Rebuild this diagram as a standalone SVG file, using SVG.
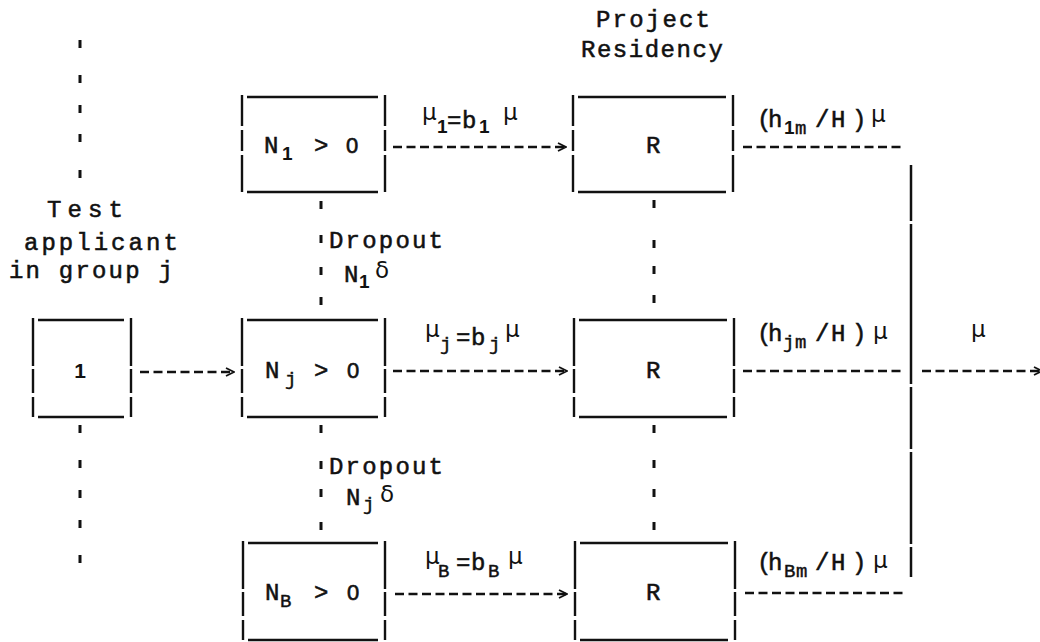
<svg xmlns="http://www.w3.org/2000/svg" width="1040" height="642" viewBox="0 0 1040 642">
<style>
.t{font-family:"Liberation Mono","DejaVu Sans Mono",monospace;font-size:24px;letter-spacing:2.2px;fill:#111;stroke:#111;stroke-width:0.55}
.s{font-family:"Liberation Mono","DejaVu Sans Mono",monospace;font-size:19px;fill:#111;stroke:#111;stroke-width:0.45}
.d{font-family:"Liberation Sans","Arial",sans-serif;font-size:19px;font-weight:bold;fill:#111}
.z{font-family:"Liberation Sans","Arial",sans-serif;font-size:22px;fill:#111;stroke:#111;stroke-width:0.6}
.g{font-family:"DejaVu Sans","Liberation Sans",sans-serif;font-size:23px;fill:#111}
.bx line{stroke:#111;stroke-width:2.4;fill:none}
.dash{stroke:#111;stroke-width:2.4;stroke-dasharray:9 4.5;fill:none}
.dot{fill:#111}
.solid{stroke:#111;stroke-width:2.5}
</style>
<defs>
<marker id="ah" viewBox="0 0 10 10" refX="9" refY="5" markerWidth="10" markerHeight="10" markerUnits="userSpaceOnUse" orient="auto">
<path d="M1,1 L9,5 L1,9" fill="none" stroke="#111" stroke-width="1.8"/>
</marker>
</defs>
<rect width="1040" height="642" fill="#fff"/>

<g id="title">
<text class="t" x="596" y="27">Project</text>
<text class="t" x="581" y="57" textLength="144" lengthAdjust="spacing">Residency</text>
</g>

<g id="applicant-label">
<text class="t" x="47" y="217" textLength="78" lengthAdjust="spacing">Test</text>
<text class="t" x="24" y="250" textLength="156" lengthAdjust="spacing">applicant</text>
<text class="t" x="9" y="278">in group j</text>
</g>

<g id="box-1" class="bx">
<line x1="38" y1="320" x2="124" y2="320"/><line x1="38" y1="417" x2="124" y2="417"/>
<line x1="33" y1="318" x2="33" y2="366"/><line x1="33" y1="369" x2="33" y2="393"/><line x1="33" y1="397" x2="33" y2="417"/>
<line x1="131" y1="318" x2="131" y2="366"/><line x1="131" y1="369" x2="131" y2="393"/><line x1="131" y1="397" x2="131" y2="417"/>
<text class="d" x="80" y="378" text-anchor="middle" style="font-size:21px">1</text>
</g>

<g id="box-n1" class="bx">
<line x1="247" y1="97" x2="378" y2="97"/><line x1="247" y1="192" x2="378" y2="192"/>
<line x1="242" y1="95" x2="242" y2="126"/><line x1="242" y1="130" x2="242" y2="151"/><line x1="242" y1="155" x2="242" y2="192"/>
<line x1="385" y1="95" x2="385" y2="126"/><line x1="385" y1="130" x2="385" y2="151"/><line x1="385" y1="155" x2="385" y2="192"/>
<text class="t" x="264" y="153">N</text><text class="d" x="282" y="160">1</text><text class="t" x="314" y="153">&gt;</text><text class="z" x="346" y="153">0</text>
</g>

<g id="box-nj" class="bx">
<line x1="247" y1="320" x2="378" y2="320"/><line x1="247" y1="417" x2="378" y2="417"/>
<line x1="242" y1="318" x2="242" y2="366"/><line x1="242" y1="369" x2="242" y2="393"/><line x1="242" y1="397" x2="242" y2="417"/>
<line x1="385" y1="318" x2="385" y2="366"/><line x1="385" y1="369" x2="385" y2="393"/><line x1="385" y1="397" x2="385" y2="417"/>
<text class="t" x="265" y="378">N</text><text class="s" x="285" y="385">j</text><text class="t" x="314" y="378">&gt;</text><text class="z" x="347" y="378">0</text>
</g>

<g id="box-nb" class="bx">
<line x1="248" y1="543" x2="378" y2="543"/><line x1="248" y1="640" x2="378" y2="640"/>
<line x1="243" y1="541" x2="243" y2="589"/><line x1="243" y1="592" x2="243" y2="616"/><line x1="243" y1="620" x2="243" y2="640"/>
<line x1="385" y1="541" x2="385" y2="589"/><line x1="385" y1="592" x2="385" y2="616"/><line x1="385" y1="620" x2="385" y2="640"/>
<text class="t" x="265" y="600">N</text><text class="s" x="280" y="607">B</text><text class="t" x="314" y="600">&gt;</text><text class="z" x="347" y="600">0</text>
</g>

<g id="box-r1" class="bx">
<line x1="578" y1="97" x2="726" y2="97"/><line x1="578" y1="192" x2="726" y2="192"/>
<line x1="573" y1="95" x2="573" y2="126"/><line x1="573" y1="130" x2="573" y2="151"/><line x1="573" y1="155" x2="573" y2="192"/>
<line x1="733" y1="95" x2="733" y2="126"/><line x1="733" y1="130" x2="733" y2="151"/><line x1="733" y1="155" x2="733" y2="192"/>
<text class="t" x="646" y="153">R</text>
</g>

<g id="box-rj" class="bx">
<line x1="579" y1="320" x2="727" y2="320"/><line x1="579" y1="417" x2="727" y2="417"/>
<line x1="574" y1="318" x2="574" y2="366"/><line x1="574" y1="369" x2="574" y2="393"/><line x1="574" y1="397" x2="574" y2="417"/>
<line x1="734" y1="318" x2="734" y2="366"/><line x1="734" y1="369" x2="734" y2="393"/><line x1="734" y1="397" x2="734" y2="417"/>
<text class="t" x="646" y="378">R</text>
</g>

<g id="box-rb" class="bx">
<line x1="580" y1="543" x2="728" y2="543"/><line x1="580" y1="640" x2="728" y2="640"/>
<line x1="575" y1="541" x2="575" y2="589"/><line x1="575" y1="592" x2="575" y2="616"/><line x1="575" y1="620" x2="575" y2="640"/>
<line x1="735" y1="541" x2="735" y2="589"/><line x1="735" y1="592" x2="735" y2="616"/><line x1="735" y1="620" x2="735" y2="640"/>
<text class="t" x="646" y="600">R</text>
</g>

<g id="connectors">
<line class="dash" x1="140" y1="372" x2="234" y2="372" marker-end="url(#ah)"/>
<line class="dash" x1="393" y1="147" x2="566" y2="147" marker-end="url(#ah)"/>
<line class="dash" x1="393" y1="371" x2="567" y2="371" marker-end="url(#ah)"/>
<line class="dash" x1="395" y1="594" x2="567" y2="594" marker-end="url(#ah)"/>
<line class="dash" x1="743" y1="147" x2="901" y2="147"/>
<line class="dash" x1="743" y1="371" x2="903" y2="371"/>
<line class="dash" x1="745" y1="593" x2="903" y2="593"/>
<line class="dash" x1="922" y1="371" x2="1042" y2="371" marker-end="url(#ah)"/>
<g class="solid">
<line x1="911" y1="165" x2="911" y2="221"/><line x1="911" y1="224" x2="911" y2="384"/><line x1="911" y1="387" x2="911" y2="449"/><line x1="911" y1="452" x2="911" y2="544"/><line x1="911" y1="547" x2="911" y2="577"/>
</g>
<g class="dot">
<rect x="78.5" y="40" width="3" height="8"/><rect x="78.5" y="75" width="3" height="8"/><rect x="78.5" y="105" width="3" height="8"/><rect x="78.5" y="134" width="3" height="8"/><rect x="78.5" y="170" width="3" height="8"/>
<rect x="78.5" y="425" width="3" height="8"/><rect x="78.5" y="460" width="3" height="8"/><rect x="78.5" y="490" width="3" height="8"/><rect x="78.5" y="520" width="3" height="8"/><rect x="78.5" y="555" width="3" height="8"/>
<rect x="319.5" y="201" width="3" height="8"/><rect x="319.5" y="235" width="3" height="8"/><rect x="319.5" y="267" width="3" height="8"/><rect x="319.5" y="297" width="3" height="8"/>
<rect x="319.5" y="425" width="3" height="8"/><rect x="319.5" y="461" width="3" height="8"/><rect x="319.5" y="489" width="3" height="8"/><rect x="319.5" y="522" width="3" height="8"/>
<rect x="652.5" y="200" width="3" height="8"/><rect x="652.5" y="240" width="3" height="8"/><rect x="652.5" y="266" width="3" height="8"/><rect x="652.5" y="295" width="3" height="8"/>
<rect x="652.5" y="425" width="3" height="8"/><rect x="652.5" y="460" width="3" height="8"/><rect x="652.5" y="489" width="3" height="8"/><rect x="652.5" y="522" width="3" height="8"/>
</g>
</g>

<g id="labels">
<text class="g" x="422" y="120">μ</text><text class="d" x="437" y="133">1</text><text class="t" x="447 462" y="128">=b</text><text class="d" x="479" y="133">1</text><text class="g" x="503" y="120">μ</text>
<text class="g" x="425" y="337">μ</text><text class="s" x="440" y="350">j</text><text class="t" x="456 471" y="345">=b</text><text class="s" x="489" y="350">j</text><text class="g" x="505" y="337">μ</text>
<text class="g" x="425" y="564">μ</text><text class="s" x="438" y="577">B</text><text class="t" x="456 471" y="570">=b</text><text class="s" x="488" y="577">B</text><text class="g" x="508" y="564">μ</text>

<text class="t" x="329" y="248">Dropout</text>
<text class="t" x="344" y="282">N</text><text class="d" x="359" y="288">1</text><text class="g" x="375" y="278">δ</text>
<text class="t" x="329" y="474">Dropout</text>
<text class="t" x="346" y="505">N</text><text class="s" x="363" y="510">j</text><text class="g" x="380" y="502">δ</text>

<text class="t" x="757 768" y="127">(h</text><text class="d" x="784" y="134">1</text><text class="s" x="795" y="134">m</text><text class="t" x="815 831 852" y="127">/H)</text><text class="g" x="871" y="122">μ</text>
<text class="t" x="757 768" y="341">(h</text><text class="s" x="783 795" y="348">jm</text><text class="t" x="815 831 852" y="341">/H)</text><text class="g" x="873" y="339">μ</text>
<text class="t" x="757 768" y="570">(h</text><text class="s" x="784 796" y="577">Bm</text><text class="t" x="815 831 852" y="570">/H)</text><text class="g" x="873" y="568">μ</text>
<text class="g" x="971" y="337">μ</text>
</g>
</svg>
